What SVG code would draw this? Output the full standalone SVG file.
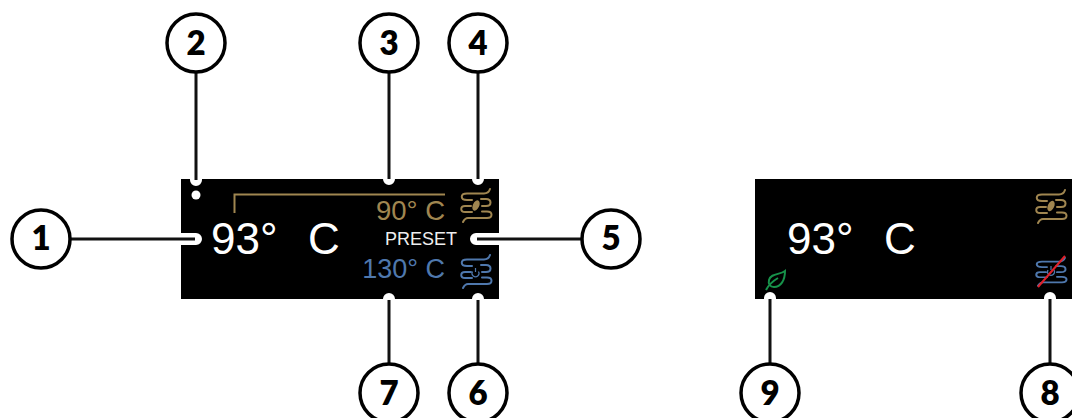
<svg xmlns="http://www.w3.org/2000/svg" width="1072" height="418" viewBox="0 0 1072 418">
<style>
.panel{fill:#000}
.halo{stroke:#fff;stroke-width:12;stroke-linecap:round;fill:none}
.lead{stroke:#111;stroke-width:3;fill:none}
.badge{fill:#fff;stroke:#000;stroke-width:3.500}
.num{font:800 33px "Lato",sans-serif;fill:#000;text-anchor:middle}
.t{font-family:"Liberation Sans",Arial,sans-serif}
.coil{fill:none;stroke-width:2;stroke-linecap:round}
.gold{stroke:#a08650;fill:none}
</style>
<defs>
<g id="coil" class="coil">
<path d="M30 2C29 5 27 6.500 24 6.500H7C0 6.500 0 13 7 13H12"/>
<path d="M21 12H26C32 12 32 19 26 19H22"/>
<path d="M11 19H5C0 19 0 25 5 25H12"/>
<path d="M22 24.500H27C33 24.500 33 31 27 31H8C5 31 4 33 3 35"/>
</g>
</defs>
<g id="panel-left"><rect class="panel" x="181" y="179" width="318" height="120"/></g>
<g id="panel-right"><rect class="panel" x="755" y="179" width="317" height="120"/></g>
<g id="connectors">
<path class="halo" d="M196 175V180M175 239H196M389 175V179M478 175V179M476 239H505M389 303V299M478 303V299M770 303V298M1050 303V298"/>
<path class="lead" d="M196 72V180M70 239H195M389 72V179M478 72V179M477 239H582M389 300V364M478 300V364M770 299V364M1050 299V364"/>
</g>
<g id="display-left">
<circle cx="196" cy="195" r="4.500" fill="#fff"/>
<path class="gold" stroke-width="2" d="M234.500 213V194.500H445"/>
<text class="t" x="211" y="254" font-size="44" fill="#fff">93°</text>
<text class="t" x="308" y="254" font-size="44" fill="#fff">C</text>
<text class="t" x="445" y="220" font-size="27.500" fill="#a08650" text-anchor="end">90° C</text>
<text class="t" x="385" y="245" font-size="18" fill="#eee">PRESET</text>
<text class="t" x="445" y="278" font-size="27" fill="#4f78ad" text-anchor="end">130° C</text>
<use href="#coil" x="460" y="187" stroke="#a08650"/>
<ellipse cx="476" cy="205.500" rx="3.200" ry="5.500" fill="#a08650" transform="rotate(25 476 205.500)"/>
<use href="#coil" x="460" y="253" stroke="#4f78ad"/>
<path d="M472.500 271.500a3.500 3.500 0 1 0 6 0M475.500 268V272" fill="none" stroke="#4f78ad" stroke-width="1.200"/>
</g>
<g id="display-right">
<text class="t" x="787" y="254" font-size="44" fill="#fff">93°</text>
<text class="t" x="884" y="254" font-size="44" fill="#fff">C</text>
<use href="#coil" x="1035" y="188" stroke="#a08650"/>
<ellipse cx="1051" cy="206" rx="3.200" ry="5.500" fill="#a08650" transform="rotate(25 1051 206)"/>
<use href="#coil" transform="translate(1035 256) scale(1 .85)" stroke="#4f78ad"/>
<path d="M1048 270a3.500 3.500 0 1 0 6 0M1051 266V270" fill="none" stroke="#4f78ad" stroke-width="1.200"/>
<path d="M1038 287L1065 256" stroke="#e0202a" stroke-width="2" fill="none"/>
<path d="M785 271C780 275 771 273 769 280C768 284 770 287 774 287C781 287 785 280 785 271ZM766 290C769 284 773 281 778 278" fill="none" stroke="#17924a" stroke-width="2"/>
</g>
<g id="n1"><circle class="badge" cx="41" cy="239" r="29"/><text class="num" x="41" y="250">1</text></g>
<g id="n2"><circle class="badge" cx="196" cy="43" r="29"/><text class="num" x="196" y="55">2</text></g>
<g id="n3"><circle class="badge" cx="389" cy="43" r="29"/><text class="num" x="389" y="55">3</text></g>
<g id="n4"><circle class="badge" cx="478" cy="43" r="29"/><text class="num" x="478" y="55">4</text></g>
<g id="n5"><circle class="badge" cx="611" cy="239" r="29"/><text class="num" x="611" y="250">5</text></g>
<g id="n6"><circle class="badge" cx="478" cy="393" r="29"/><text class="num" x="478" y="405">6</text></g>
<g id="n7"><circle class="badge" cx="389" cy="393" r="29"/><text class="num" x="389" y="405">7</text></g>
<g id="n8"><circle class="badge" cx="1050" cy="393" r="29"/><text class="num" x="1050" y="405">8</text></g>
<g id="n9"><circle class="badge" cx="770" cy="393" r="29"/><text class="num" x="770" y="405">9</text></g>
</svg>
